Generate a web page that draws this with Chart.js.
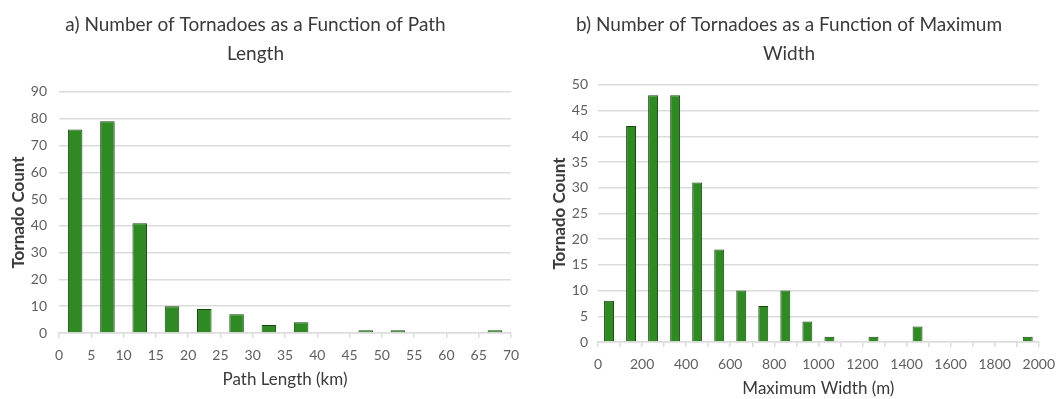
<!DOCTYPE html>
<html>
<head>
<meta charset="utf-8">
<script src="https://cdn.jsdelivr.net/npm/chart.js@4.4.1/dist/chart.umd.min.js"></script>
<style>
  html, body { margin: 0; padding: 0; background: #ffffff; }
  #wrap { position: relative; width: 1064px; height: 399px; overflow: hidden; }
  .panel { position: absolute; top: 0; height: 399px; }
  #panelA { left: 0; width: 530px; }
  #panelB { left: 530px; width: 534px; }
</style>
</head>
<body>
<div id="wrap">
  <div class="panel" id="panelA"><canvas id="chartA"></canvas></div>
  <div class="panel" id="panelB"><canvas id="chartB"></canvas></div>
</div>
<script>
// Path length histogram: 5 km bins starting at each lower edge
const pathBinStarts = [0, 5, 10, 15, 20, 25, 30, 35, 40, 45, 50, 55, 60, 65];
const pathBinSize = 5;
const pathCounts = [76, 79, 41, 10, 9, 7, 3, 4, 0, 1, 1, 0, 0, 1];
const pathTickMax = 70;
const pathTickStep = 5;
const countTicksA = { max: 90, step: 10 };

// Maximum width histogram: 100 m bins starting at each lower edge
const widthBinStarts = [0, 100, 200, 300, 400, 500, 600, 700, 800, 900,
                        1000, 1100, 1200, 1300, 1400, 1500, 1600, 1700, 1800, 1900];
const widthBinSize = 100;
const widthCounts = [8, 42, 48, 48, 31, 18, 10, 7, 10, 4, 1, 0, 1, 0, 3, 0, 0, 0, 0, 1];
const widthTickMax = 2000;
const widthTickStep = 100;
const widthLabelStep = 200;
const countTicksB = { max: 50, step: 5 };

const titleA = ['a) Number of Tornadoes as a Function of Path', 'Length'];
const titleB = ['b) Number of Tornadoes as a Function of Maximum', 'Width'];
const xTitleA = 'Path Length (km)';
const xTitleB = 'Maximum Width (m)';
const yTitle = 'Tornado Count';

const FONT = 'Lato, "Open Sans", sans-serif';
const BAR_FILL = '#2f8a24';
const BAR_EDGE = '#17470f';
const GRID = '#dcdcdc';
const TICK_TEXT = '#5f5f5f';
const TITLE_TEXT = '#3a3a3a';

function binPoints(starts, size, counts) {
  return starts.map((s, i) => ({ x: s + size / 2, y: counts[i] }));
}

function makeHistogram(canvasId, cfg) {
  return new Chart(document.getElementById(canvasId), {
    type: 'bar',
    data: {
      datasets: [{
        data: binPoints(cfg.starts, cfg.size, cfg.counts),
        backgroundColor: BAR_FILL,
        borderColor: BAR_EDGE,
        borderWidth: 1,
        categoryPercentage: 1.0,
        barPercentage: 0.45
      }]
    },
    options: {
      responsive: true,
      maintainAspectRatio: false,
      animation: false,
      layout: { padding: { left: 0, right: cfg.padRight, top: 0, bottom: 0 } },
      plugins: {
        legend: { display: false },
        tooltip: { enabled: false },
        title: {
          display: true,
          text: cfg.title,
          color: TITLE_TEXT,
          font: { family: FONT, size: 19, weight: 'normal', lineHeight: 1.55 },
          padding: { top: 10, bottom: cfg.titleGap }
        }
      },
      scales: {
        x: {
          type: 'linear',
          min: 0,
          max: cfg.xMax,
          offset: false,
          grid: {
            offset: false,
            drawOnChartArea: false,
            drawTicks: true,
            tickLength: 5,
            color: GRID,
            lineWidth: 1.5
          },
          border: { display: true, color: GRID, width: 1.5 },
          ticks: {
            stepSize: cfg.xStep,
            autoSkip: false,
            maxRotation: 0,
            padding: 9,
            color: TICK_TEXT,
            font: { family: FONT, size: 14 },
            callback: (v) => (v % cfg.labelStep === 0 ? String(v) : '')
          },
          title: {
            display: true,
            text: cfg.xTitle,
            color: TITLE_TEXT,
            font: { family: FONT, size: 17, weight: 'normal', lineHeight: 1.2 },
            padding: { top: 0, bottom: cfg.xTitlePad }
          },
          afterFit: (scale) => { scale.height = cfg.xHeight; }
        },
        y: {
          min: 0,
          max: cfg.yMax,
          grid: { drawTicks: false, color: GRID, lineWidth: 1.5 },
          border: { display: false },
          ticks: {
            stepSize: cfg.yStep,
            padding: cfg.yTickPad,
            color: TICK_TEXT,
            font: { family: FONT, size: 14 }
          },
          title: {
            display: true,
            text: yTitle,
            color: TITLE_TEXT,
            font: { family: FONT, size: 17, weight: 'bold', lineHeight: 1.2 },
            padding: { top: cfg.yTitlePad, bottom: 0 }
          },
          afterFit: (scale) => { scale.width = cfg.yWidth; }
        }
      }
    }
  });
}

makeHistogram('chartA', {
  starts: pathBinStarts, size: pathBinSize, counts: pathCounts,
  xMax: pathTickMax, xStep: pathTickStep, labelStep: pathTickStep,
  yMax: countTicksA.max, yStep: countTicksA.step,
  title: titleA, xTitle: xTitleA,
  padRight: 19, titleGap: 23, xHeight: 66, yWidth: 59,
  xTitlePad: 9, yTitlePad: 8, yTickPad: 12
});

makeHistogram('chartB', {
  starts: widthBinStarts, size: widthBinSize, counts: widthCounts,
  xMax: widthTickMax, xStep: widthTickStep, labelStep: widthLabelStep,
  yMax: countTicksB.max, yStep: countTicksB.step,
  title: titleB, xTitle: xTitleB,
  padRight: 16, titleGap: 16, xHeight: 57, yWidth: 68,
  xTitlePad: 0, yTitlePad: 19, yTickPad: 10
});
</script>
</body>
</html>
